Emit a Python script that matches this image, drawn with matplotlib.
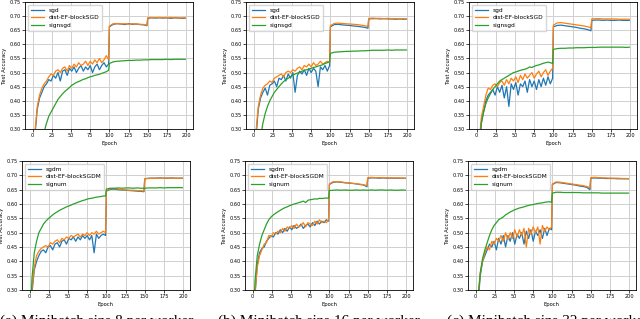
import matplotlib

matplotlib.use("Agg")
import matplotlib.pyplot as plt

epochs = (list(range(0, 100, 3))
          + list(range(100, 150, 5)) + [149]
          + list(range(150, 200, 5)) + [199])

# ---- top row: sgd / dist-EF-blockSGD / signsgd ----
a_sgd = [0.10, 0.28, 0.37, 0.41, 0.43, 0.45, 0.46, 0.475, 0.47, 0.49, 0.48, 0.50,
         0.47, 0.505, 0.51, 0.49, 0.515, 0.505, 0.52, 0.50, 0.515, 0.525, 0.505, 0.52,
         0.51, 0.525, 0.50, 0.52, 0.53, 0.51, 0.525, 0.535, 0.52, 0.53,
         0.662, 0.671, 0.673, 0.672, 0.670, 0.673, 0.671, 0.672, 0.670, 0.669, 0.666,
         0.692, 0.694, 0.693, 0.694, 0.693, 0.694, 0.692, 0.694, 0.693, 0.692, 0.693]
a_ef = [0.12, 0.29, 0.38, 0.42, 0.445, 0.46, 0.47, 0.485, 0.495, 0.49, 0.505, 0.51,
        0.50, 0.515, 0.52, 0.505, 0.525, 0.515, 0.53, 0.52, 0.535, 0.525, 0.53, 0.54,
        0.525, 0.54, 0.53, 0.545, 0.535, 0.55, 0.535, 0.545, 0.56, 0.545,
        0.665, 0.673, 0.674, 0.672, 0.673, 0.671, 0.673, 0.672, 0.671, 0.670, 0.668,
        0.694, 0.695, 0.694, 0.695, 0.694, 0.694, 0.695, 0.694, 0.693, 0.694, 0.694]
a_sign = [0.05, 0.10, 0.15, 0.20, 0.25, 0.29, 0.32, 0.345, 0.36, 0.375, 0.39, 0.405,
          0.415, 0.425, 0.433, 0.44, 0.447, 0.455, 0.46, 0.465, 0.468, 0.472, 0.476, 0.478,
          0.482, 0.485, 0.487, 0.49, 0.492, 0.494, 0.497, 0.50, 0.503, 0.508,
          0.532, 0.538, 0.540, 0.541, 0.542, 0.543, 0.543, 0.544, 0.544, 0.545, 0.545,
          0.545, 0.546, 0.546, 0.546, 0.546, 0.547, 0.546, 0.547, 0.547, 0.547, 0.547]

b_sgd = [0.10, 0.27, 0.37, 0.41, 0.43, 0.445, 0.42, 0.455, 0.46, 0.47, 0.45, 0.48,
         0.475, 0.49, 0.47, 0.495, 0.48, 0.50, 0.43, 0.49, 0.505, 0.495, 0.51, 0.49,
         0.515, 0.50, 0.515, 0.505, 0.45, 0.52, 0.51, 0.525, 0.505, 0.525,
         0.662, 0.670, 0.671, 0.669, 0.668, 0.667, 0.665, 0.664, 0.662, 0.660, 0.657,
         0.690, 0.691, 0.691, 0.690, 0.691, 0.690, 0.690, 0.689, 0.690, 0.689, 0.689]
b_ef = [0.12, 0.29, 0.38, 0.42, 0.445, 0.455, 0.46, 0.47, 0.465, 0.48, 0.485, 0.49,
        0.495, 0.485, 0.50, 0.505, 0.50, 0.51, 0.505, 0.515, 0.52, 0.51, 0.525, 0.52,
        0.53, 0.52, 0.535, 0.525, 0.53, 0.54, 0.53, 0.535, 0.54, 0.535,
        0.666, 0.674, 0.675, 0.674, 0.673, 0.672, 0.671, 0.670, 0.668, 0.666, 0.663,
        0.692, 0.693, 0.692, 0.692, 0.691, 0.692, 0.691, 0.691, 0.690, 0.691, 0.690]
b_sign = [0.05, 0.12, 0.20, 0.27, 0.32, 0.355, 0.38, 0.40, 0.415, 0.43, 0.44, 0.45,
          0.46, 0.468, 0.475, 0.48, 0.485, 0.49, 0.495, 0.498, 0.50, 0.505, 0.508, 0.51,
          0.512, 0.515, 0.518, 0.52, 0.523, 0.525, 0.528, 0.532, 0.535, 0.538,
          0.568, 0.572, 0.573, 0.574, 0.575, 0.575, 0.576, 0.576, 0.577, 0.577, 0.578,
          0.578, 0.579, 0.579, 0.579, 0.579, 0.580, 0.579, 0.580, 0.580, 0.580, 0.580]

c_sgd = [0.10, 0.20, 0.32, 0.36, 0.40, 0.42, 0.43, 0.44, 0.42, 0.45, 0.43, 0.455,
         0.41, 0.45, 0.38, 0.46, 0.44, 0.465, 0.42, 0.46, 0.45, 0.47, 0.43, 0.475,
         0.45, 0.47, 0.44, 0.475, 0.45, 0.48, 0.455, 0.485, 0.46, 0.48,
         0.662, 0.667, 0.668, 0.666, 0.664, 0.662, 0.660, 0.657, 0.655, 0.652, 0.648,
         0.685, 0.686, 0.686, 0.685, 0.686, 0.685, 0.685, 0.686, 0.685, 0.685, 0.685]
c_ef = [0.12, 0.24, 0.34, 0.38, 0.42, 0.445, 0.44, 0.455, 0.46, 0.45, 0.465, 0.47,
        0.455, 0.475, 0.46, 0.48, 0.47, 0.485, 0.465, 0.49, 0.475, 0.495, 0.48, 0.49,
        0.50, 0.48, 0.495, 0.505, 0.485, 0.50, 0.51, 0.49, 0.505, 0.515,
        0.668, 0.676, 0.677, 0.675, 0.673, 0.671, 0.669, 0.667, 0.665, 0.662, 0.658,
        0.690, 0.691, 0.691, 0.690, 0.690, 0.690, 0.690, 0.689, 0.689, 0.689, 0.689]
c_sign = [0.08, 0.22, 0.32, 0.36, 0.39, 0.41, 0.425, 0.44, 0.45, 0.46, 0.47, 0.475,
          0.48, 0.485, 0.49, 0.495, 0.50, 0.502, 0.505, 0.508, 0.51, 0.512, 0.515, 0.52,
          0.518, 0.522, 0.525, 0.527, 0.53, 0.533, 0.535, 0.537, 0.535, 0.532,
          0.582, 0.585, 0.586, 0.586, 0.587, 0.587, 0.588, 0.588, 0.588, 0.589, 0.589,
          0.589, 0.589, 0.590, 0.590, 0.590, 0.590, 0.590, 0.590, 0.590, 0.589, 0.590]

# ---- bottom row: sgdm / dist-EF-blockSGDM / signum ----
d_sgdm = [0.10, 0.29, 0.37, 0.40, 0.42, 0.435, 0.44, 0.43, 0.45, 0.455, 0.44, 0.46,
          0.465, 0.45, 0.47, 0.475, 0.46, 0.48, 0.475, 0.485, 0.47, 0.485, 0.475, 0.49,
          0.48, 0.49, 0.475, 0.49, 0.43, 0.495, 0.48, 0.49, 0.495, 0.49,
          0.645, 0.651, 0.652, 0.650, 0.649, 0.648, 0.647, 0.646, 0.645, 0.644, 0.643,
          0.688, 0.690, 0.690, 0.690, 0.691, 0.690, 0.690, 0.691, 0.690, 0.690, 0.690]
d_ef = [0.11, 0.30, 0.38, 0.42, 0.435, 0.445, 0.45, 0.455, 0.45, 0.465, 0.46, 0.47,
        0.475, 0.465, 0.48, 0.475, 0.485, 0.48, 0.49, 0.485, 0.49, 0.495, 0.485, 0.495,
        0.49, 0.50, 0.49, 0.50, 0.495, 0.505, 0.495, 0.50, 0.505, 0.50,
        0.647, 0.653, 0.654, 0.652, 0.650, 0.649, 0.648, 0.648, 0.647, 0.646, 0.645,
        0.688, 0.689, 0.690, 0.690, 0.690, 0.690, 0.691, 0.690, 0.690, 0.690, 0.690]
d_sign = [0.15, 0.34, 0.43, 0.47, 0.50, 0.515, 0.53, 0.54, 0.548, 0.555, 0.562, 0.568,
          0.573, 0.578, 0.582, 0.586, 0.59, 0.593, 0.596, 0.60, 0.603, 0.606, 0.609, 0.612,
          0.614, 0.617, 0.619, 0.62, 0.622, 0.624, 0.625, 0.626, 0.628, 0.628,
          0.652, 0.655, 0.655, 0.656, 0.655, 0.656, 0.656, 0.655, 0.656, 0.655, 0.655,
          0.655, 0.656, 0.656, 0.656, 0.657, 0.656, 0.657, 0.657, 0.657, 0.657, 0.657]

e_sgdm = [0.10, 0.28, 0.39, 0.43, 0.445, 0.45, 0.47, 0.48, 0.49, 0.485, 0.50, 0.495,
          0.51, 0.50, 0.515, 0.505, 0.52, 0.51, 0.525, 0.515, 0.52, 0.53, 0.515, 0.525,
          0.53, 0.52, 0.535, 0.525, 0.54, 0.53, 0.54, 0.535, 0.545, 0.54,
          0.668, 0.676, 0.677, 0.676, 0.674, 0.673, 0.672, 0.670, 0.668, 0.666, 0.660,
          0.690, 0.691, 0.691, 0.690, 0.691, 0.690, 0.690, 0.690, 0.690, 0.690, 0.690]
e_ef = [0.11, 0.29, 0.38, 0.42, 0.44, 0.46, 0.465, 0.49, 0.485, 0.50, 0.495, 0.505,
        0.50, 0.515, 0.505, 0.52, 0.515, 0.525, 0.515, 0.53, 0.52, 0.525, 0.535, 0.52,
        0.535, 0.53, 0.525, 0.54, 0.53, 0.545, 0.535, 0.54, 0.535, 0.545,
        0.670, 0.678, 0.678, 0.677, 0.675, 0.674, 0.672, 0.671, 0.669, 0.667, 0.664,
        0.692, 0.693, 0.692, 0.692, 0.692, 0.691, 0.691, 0.691, 0.691, 0.690, 0.690]
e_sign = [0.12, 0.33, 0.42, 0.46, 0.49, 0.51, 0.53, 0.545, 0.555, 0.562, 0.568, 0.573,
          0.578, 0.583, 0.587, 0.59, 0.594, 0.597, 0.60, 0.602, 0.605, 0.607, 0.61, 0.605,
          0.613, 0.615, 0.616, 0.618, 0.617, 0.62, 0.619, 0.62, 0.621, 0.62,
          0.647, 0.648, 0.649, 0.648, 0.649, 0.648, 0.648, 0.649, 0.648, 0.649, 0.648,
          0.648, 0.649, 0.648, 0.649, 0.649, 0.648, 0.649, 0.648, 0.648, 0.649, 0.648]

f_sgdm = [0.10, 0.25, 0.35, 0.40, 0.42, 0.44, 0.46, 0.45, 0.47, 0.44, 0.48, 0.46,
          0.49, 0.45, 0.49, 0.47, 0.50, 0.46, 0.495, 0.48, 0.50, 0.46, 0.505, 0.48,
          0.51, 0.47, 0.505, 0.49, 0.51, 0.48, 0.515, 0.49, 0.515, 0.51,
          0.668, 0.675, 0.674, 0.672, 0.670, 0.668, 0.666, 0.663, 0.661, 0.658, 0.650,
          0.690, 0.691, 0.690, 0.690, 0.689, 0.689, 0.689, 0.688, 0.688, 0.688, 0.688]
f_ef = [0.11, 0.27, 0.36, 0.40, 0.43, 0.45, 0.44, 0.47, 0.46, 0.48, 0.47, 0.49,
        0.47, 0.50, 0.475, 0.50, 0.48, 0.51, 0.485, 0.51, 0.49, 0.515, 0.45, 0.515,
        0.495, 0.52, 0.50, 0.52, 0.46, 0.525, 0.505, 0.52, 0.51, 0.52,
        0.670, 0.677, 0.676, 0.674, 0.672, 0.670, 0.668, 0.666, 0.664, 0.661, 0.656,
        0.692, 0.693, 0.692, 0.691, 0.691, 0.690, 0.690, 0.690, 0.689, 0.689, 0.688]
f_sign = [0.10, 0.27, 0.36, 0.41, 0.44, 0.465, 0.49, 0.51, 0.525, 0.535, 0.545, 0.55,
          0.555, 0.562, 0.567, 0.572, 0.576, 0.58, 0.583, 0.586, 0.588, 0.59, 0.593, 0.595,
          0.597, 0.598, 0.60, 0.602, 0.603, 0.604, 0.606, 0.607, 0.608, 0.606,
          0.638, 0.641, 0.641, 0.640, 0.640, 0.640, 0.640, 0.640, 0.639, 0.639, 0.639,
          0.639, 0.639, 0.639, 0.638, 0.638, 0.638, 0.638, 0.638, 0.638, 0.638, 0.638]

top_names = ["sgd", "dist-EF-blockSGD", "signsgd"]
bottom_names = ["sgdm", "dist-EF-blockSGDM", "signum"]
panels = [
    (top_names, [a_sgd, a_ef, a_sign]),
    (top_names, [b_sgd, b_ef, b_sign]),
    (top_names, [c_sgd, c_ef, c_sign]),
    (bottom_names, [d_sgdm, d_ef, d_sign]),
    (bottom_names, [e_sgdm, e_ef, e_sign]),
    (bottom_names, [f_sgdm, f_ef, f_sign]),
]
captions = ["(a) Minibatch size 8 per worker",
            "(b) Minibatch size 16 per worker",
            "(c) Minibatch size 32 per worker"]

colors = ["#1f77b4", "#ff7f0e", "#2ca02c"]

fig = plt.figure(figsize=(6.4, 3.19), dpi=100)

# axes rectangles in pixels
lefts_top = [25, 246, 469]
lefts_bot = [22, 245, 468]
W, H = 640.0, 319.0

for i, (names, series) in enumerate(panels):
    row, col = divmod(i, 3)
    if row == 0:
        left, top, bottom = lefts_top[col], 2, 129
    else:
        left, top, bottom = lefts_bot[col], 161, 290
    ax = fig.add_axes([left / W, 1 - bottom / H, 168 / W, (bottom - top) / H])
    for name, vals, c in zip(names, series, colors):
        ax.plot(epochs, vals, color=c, linewidth=0.9, label=name)
    ax.set_ylim(0.30, 0.75)
    ax.set_xlim(-10, 209)
    ax.set_xticks(range(0, 201, 25))
    ax.set_yticks([0.30, 0.35, 0.40, 0.45, 0.50, 0.55, 0.60, 0.65, 0.70, 0.75])
    ax.grid(True, color="#d0d0d0", linewidth=0.7)
    ax.set_axisbelow(True)
    ax.tick_params(labelsize=3.6, length=2, width=0.5, pad=1.2)
    for s in ax.spines.values():
        s.set_linewidth(0.6)
    ax.set_xlabel("Epoch", fontsize=3.8, labelpad=1.5)
    ax.set_ylabel("Test Accuracy", fontsize=3.8, labelpad=1.5)
    ax.legend(loc="upper left", fontsize=4.2, handlelength=2.2,
              borderpad=0.5, labelspacing=0.4, framealpha=0.8)

# captions sit at the bottom edge and are cut off, as in the source image
cap_x = [0, 218, 447]
for x, txt in zip(cap_x, captions):
    fig.text(x / W, 4 / H, txt, ha="left", va="top", fontsize=11,
             family="Liberation Serif")

fig.savefig("out.png", dpi=100)
